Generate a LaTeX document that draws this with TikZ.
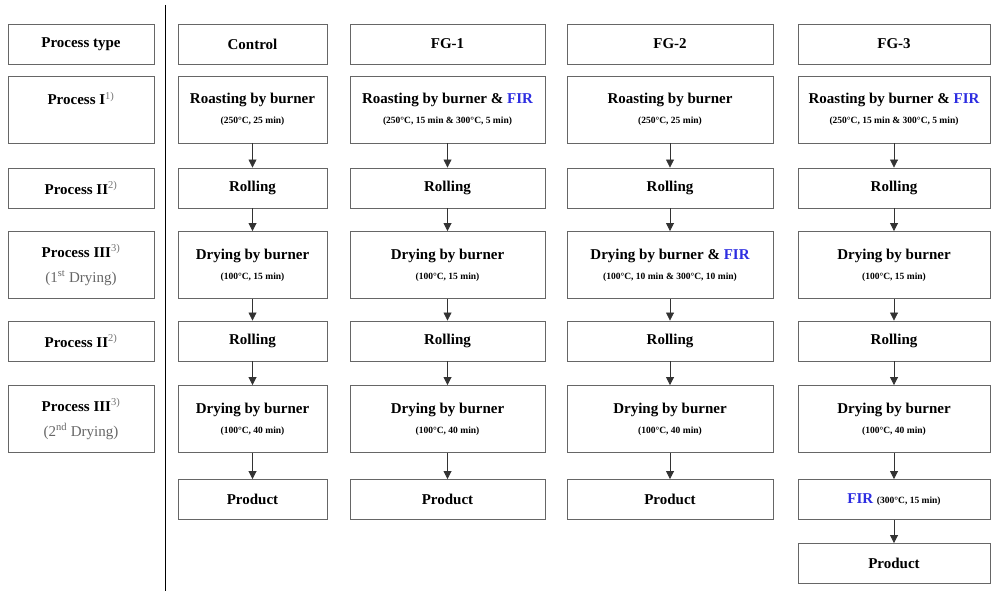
\documentclass[tikz,border=0pt]{standalone}
\usepackage{fontspec}
\setmainfont{Liberation Serif}
\usetikzlibrary{arrows.meta}
\definecolor{firblue}{RGB}{45,45,225}
\newcommand{\cond}[1]{{\fontsize{9.5}{11}\selectfont #1}}
\newcommand{\fir}{{\color{firblue}FIR}}
\newcommand{\note}[1]{\textsuperscript{\color{black!55}\mdseries #1}}
\tikzset{
  box/.style={draw=black!60, line width=0.9pt, inner sep=0pt, align=center,
    font=\fontsize{15}{16}\selectfont\bfseries},
  short/.style={minimum height=40pt},
  tall/.style={minimum height=67pt},
  wl/.style={minimum width=146pt},
  wc/.style={minimum width=149pt},
  wa/.style={minimum width=195pt},
  wb/.style={minimum width=206pt},
  wd/.style={minimum width=192pt},
  flow/.style={-{Triangle[length=8pt,width=8pt]}, line width=0.8pt, black!80}
}
\begin{document}
\begin{tikzpicture}[x=1pt,y=-1pt]
  \useasboundingbox (0,0) rectangle (992,591);
  \draw[line width=1pt] (165,5) -- (165,591);

  % process labels
  \node[box, wl, short] (l0) at (81,44) {Process type};
  \node[box, wl, tall] (l1) at (81,109.5) {Process I\note{1)}\\[4pt]\cond{\phantom{(250)}}};
  \node[box, wl, short] (l2) at (81,188) {Process II\note{2)}};
  \node[box, wl, tall] (l3) at (81,265) {Process III\note{3)}\\[9pt]{\mdseries\color{black!60}(1\textsuperscript{st} Drying)}};
  \node[box, wl, short] (l4) at (81,341) {Process II\note{2)}};
  \node[box, wl, tall] (l5) at (81,419) {Process III\note{3)}\\[9pt]{\mdseries\color{black!60}(2\textsuperscript{nd} Drying)}};

  % control
  \node[box, wc, short] (c0) at (252.5,44) {Control};
  \node[box, wc, tall] (c1) at (252.5,109.5) {Roasting by burner\\[4pt]\cond{(250°C, 25 min)}};
  \node[box, wc, short] (c2) at (252.5,188) {Rolling};
  \node[box, wc, tall] (c3) at (252.5,265) {Drying by burner\\[4pt]\cond{(100°C, 15 min)}};
  \node[box, wc, short] (c4) at (252.5,341) {Rolling};
  \node[box, wc, tall] (c5) at (252.5,419) {Drying by burner\\[4pt]\cond{(100°C, 40 min)}};
  \node[box, wc, short] (c6) at (252.5,499.5) {Product};

  % FG-1
  \node[box, wa, short] (a0) at (447.5,44) {FG-1};
  \node[box, wa, tall] (a1) at (447.5,109.5) {Roasting by burner \& \fir\\[4pt]\cond{(250°C, 15 min \& 300°C, 5 min)}};
  \node[box, wa, short] (a2) at (447.5,188) {Rolling};
  \node[box, wa, tall] (a3) at (447.5,265) {Drying by burner\\[4pt]\cond{(100°C, 15 min)}};
  \node[box, wa, short] (a4) at (447.5,341) {Rolling};
  \node[box, wa, tall] (a5) at (447.5,419) {Drying by burner\\[4pt]\cond{(100°C, 40 min)}};
  \node[box, wa, short] (a6) at (447.5,499.5) {Product};

  % FG-2
  \node[box, wb, short] (b0) at (670,44) {FG-2};
  \node[box, wb, tall] (b1) at (670,109.5) {Roasting by burner\\[4pt]\cond{(250°C, 25 min)}};
  \node[box, wb, short] (b2) at (670,188) {Rolling};
  \node[box, wb, tall] (b3) at (670,265) {Drying by burner \& \fir\\[4pt]\cond{(100°C, 10 min \& 300°C, 10 min)}};
  \node[box, wb, short] (b4) at (670,341) {Rolling};
  \node[box, wb, tall] (b5) at (670,419) {Drying by burner\\[4pt]\cond{(100°C, 40 min)}};
  \node[box, wb, short] (b6) at (670,499.5) {Product};

  % FG-3
  \node[box, wd, short] (d0) at (894,44) {FG-3};
  \node[box, wd, tall] (d1) at (894,109.5) {Roasting by burner \& \fir\\[4pt]\cond{(250°C, 15 min \& 300°C, 5 min)}};
  \node[box, wd, short] (d2) at (894,188) {Rolling};
  \node[box, wd, tall] (d3) at (894,265) {Drying by burner\\[4pt]\cond{(100°C, 15 min)}};
  \node[box, wd, short] (d4) at (894,341) {Rolling};
  \node[box, wd, tall] (d5) at (894,419) {Drying by burner\\[4pt]\cond{(100°C, 40 min)}};
  \node[box, wd, short] (d6) at (894,499.5) {\fir\ \cond{(300°C, 15 min)}};
  \node[box, wd, short] (d7) at (894,563.5) {Product};

  \begin{scope}[flow]
    \draw (c1) to (c2);
    \draw (c2) to (c3);
    \draw (c3) to (c4);
    \draw (c4) to (c5);
    \draw (c5) to (c6);
    \draw (a1) to (a2);
    \draw (a2) to (a3);
    \draw (a3) to (a4);
    \draw (a4) to (a5);
    \draw (a5) to (a6);
    \draw (b1) to (b2);
    \draw (b2) to (b3);
    \draw (b3) to (b4);
    \draw (b4) to (b5);
    \draw (b5) to (b6);
    \draw (d1) to (d2);
    \draw (d2) to (d3);
    \draw (d3) to (d4);
    \draw (d4) to (d5);
    \draw (d5) to (d6);
    \draw (d6) to (d7);
  \end{scope}
\end{tikzpicture}
\end{document}
